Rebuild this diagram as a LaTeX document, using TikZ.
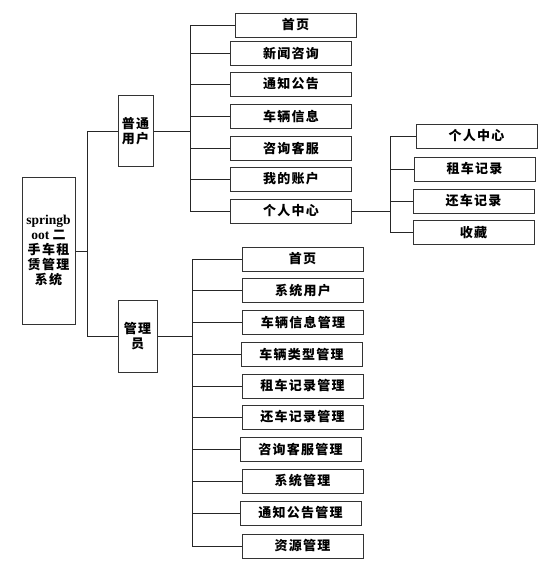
\documentclass[tikz,border=0pt]{standalone}
\usepackage{fontspec}
\setmainfont{Liberation Serif}
\newfontfamily\cjk{Noto Sans CJK SC}[LetterSpace=10]
\begin{document}
\begin{tikzpicture}[x=1pt,y=-1pt,
  box/.style={draw=black!80, line width=1pt, minimum height=24pt, minimum width=121pt, inner sep=0pt, font=\cjk\bfseries\fontsize{13}{15}\selectfont},
  tall/.style={draw=black!80, line width=1pt, inner sep=0pt, align=center, font=\cjk\bfseries\fontsize{13}{15}\selectfont},
  ln/.style={line width=0.9pt, black!85}]
\useasboundingbox (0,0) rectangle (558,570);
% root and roles
\node[tall, minimum width=53pt, minimum height=147pt] (root) at (48.5,251)
  {\fontsize{13}{14.5}\selectfont{\rmfamily\bfseries\fontsize{13.5}{14.5}\selectfont springb}\\{\rmfamily\bfseries\fontsize{13.5}{14.5}\selectfont oot\ }二\\手车租\\赁管理\\系统};
\node[tall, minimum width=35pt, minimum height=71pt] (user) at (135.5,131) {普通\\用户};
\node[tall, minimum width=39pt, minimum height=72pt] (admin) at (137.5,336) {管理\\员};
% user children
\node[box] (u1) at (295.5,25) {首页};
\node[box] (u2) at (291,53) {新闻咨询};
\node[box] (u3) at (291,84) {通知公告};
\node[box] (u4) at (291,116) {车辆信息};
\node[box] (u5) at (291,148) {咨询客服};
\node[box] (u6) at (291,179) {我的账户};
\node[box] (u7) at (291,211) {个人中心};
% personal center children
\node[box] (p1) at (476.5,136) {个人中心};
\node[box] (p2) at (474.5,169) {租车记录};
\node[box] (p3) at (473.5,201) {还车记录};
\node[box] (p4) at (473.5,232.5) {收藏};
% admin children
\node[box] (a1) at (302.5,259) {首页};
\node[box] (a2) at (303,290.5) {系统用户};
\node[box] (a3) at (303,322) {车辆信息管理};
\node[box] (a4) at (301.5,354) {车辆类型管理};
\node[box] (a5) at (302.5,386) {租车记录管理};
\node[box] (a6) at (302.5,417) {还车记录管理};
\node[box] (a7) at (300.5,449) {咨询客服管理};
\node[box] (a8) at (302.5,481) {系统管理};
\node[box] (a9) at (300.5,513) {通知公告管理};
\node[box] (a10) at (302.5,546) {资源管理};
% junctions
\coordinate (jr) at (87,251);
\coordinate (ju) at (190,131);
\coordinate (jp) at (390,211);
\coordinate (ja) at (192,336);
% connectors
\draw[ln] (root.east) -- (jr);
\draw[ln] (jr |- user.west) -- (jr |- admin.west);
\draw[ln] (jr |- user.west) -- (user.west);
\draw[ln] (jr |- admin.west) -- (admin.west);
\draw[ln] (user.east) -- (ju |- user.east);
\draw[ln] (ju |- u1.west) -- (ju |- u7.west);
\foreach \i in {1,...,7} \draw[ln] (ju |- u\i.west) -- (u\i.west);
\draw[ln] (u7.east) -- (jp |- u7.east);
\draw[ln] (jp |- p1.west) -- (jp |- p4.west);
\foreach \i in {1,...,4} \draw[ln] (jp |- p\i.west) -- (p\i.west);
\draw[ln] (admin.east) -- (ja |- admin.east);
\draw[ln] (ja |- a1.west) -- (ja |- a10.west);
\foreach \i in {1,...,10} \draw[ln] (ja |- a\i.west) -- (a\i.west);
\end{tikzpicture}
\end{document}
